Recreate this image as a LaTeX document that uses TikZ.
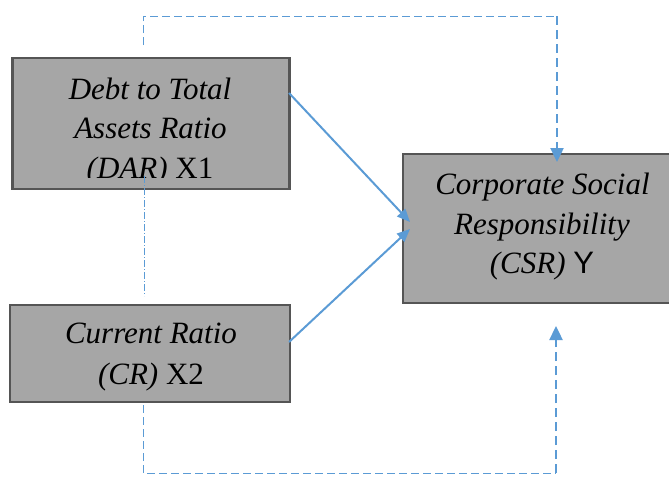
\documentclass[tikz,border=0pt]{standalone}
\usepackage{fontspec}
\setmainfont{Liberation Serif}
\newfontfamily\sansY{Liberation Sans}
\usetikzlibrary{arrows.meta}
\definecolor{boxfill}{HTML}{A6A6A6}
\definecolor{boxline}{HTML}{555555}
\definecolor{linkblue}{HTML}{5B9BD5}
\tikzset{
  varbox/.style={draw=boxline, line width=2.6pt, fill=boxfill, rectangle, inner sep=0pt},
  txt/.style={anchor=base, inner sep=0pt, font=\fontsize{31}{39}\selectfont},
  solidarrow/.style={draw=linkblue, line width=2pt, -{Triangle[length=13pt,width=11pt]}},
  thindash/.style={draw=linkblue, line width=1pt, dash pattern=on 8pt off 4pt},
  thickdash/.style={draw=linkblue, line width=2.4pt, dash pattern=on 9pt off 5pt},
  thickdasharrow/.style={thickdash, -{Triangle[length=14pt,width=13pt]}},
  dashdotline/.style={draw=linkblue, line width=1pt, dash pattern=on 7pt off 2pt on 1pt off 2pt}
}
\begin{document}
\begin{tikzpicture}[x=1pt,y=-1pt]
\useasboundingbox (0,0) rectangle (669,477);
% boxes
\node[varbox, minimum width=277pt, minimum height=131pt] (dar) at (151,123.5) {};
\node[varbox, minimum width=280pt, minimum height=97pt] (cr) at (150,353.5) {};
\node[varbox, minimum width=277pt, minimum height=149pt] (csr) at (541.5,228.5) {};
% texts
\node[txt] (dar1) at (150,99.5) {\itshape Debt to Total};
\node[txt] (dar2) at (150.5,138.5) {\itshape Assets Ratio};
\begin{scope}
\clip (12,140) rectangle (290,177.5);
\node[txt] (dar3) at (150,178.5) {\itshape (DAR)\upshape\ X1};
\end{scope}
\node[txt] (cr1) at (151,343) {\itshape Current Ratio};
\node[txt] (cr2) at (151,384) {\itshape (CR)\upshape\ X2};
\node[txt] (csr1) at (542.5,194.5) {\itshape Corporate Social};
\node[txt] (csr2) at (542,234) {\itshape Responsibility};
\node[txt] (csr3) at (542,273.5) {\itshape (CSR)\upshape\ {\sansY Y}};
% coordinates for connectors
\coordinate (darout) at (289,93);
\coordinate (crout) at (289,342);
\coordinate (csrin1) at (410,222);
\coordinate (csrin2) at (410,229);
\coordinate (topstart) at (143,45);
\coordinate (topleft) at (143,16);
\coordinate (topright) at (557,16);
\coordinate (toptip) at (557,162);
\coordinate (midstart) at (144,176);
\coordinate (midend) at (144,296);
\coordinate (botstart) at (143,405);
\coordinate (botleft) at (143,473);
\coordinate (botright) at (556,473);
\coordinate (bottip) at (556,326);
% solid arrows
\draw[solidarrow] (darout) -- (csrin1);
\draw[solidarrow] (crout) -- (csrin2);
% dashed connectors
\draw[thindash] (topstart) -- (topleft) -- (topright);
\draw[thickdasharrow] (topright) -- (toptip);
\draw[dashdotline] (midstart) -- (midend);
\draw[thindash] (botstart) -- (botleft) -- (botright);
\draw[thickdasharrow] (botright) -- (bottip);
\end{tikzpicture}
\end{document}
